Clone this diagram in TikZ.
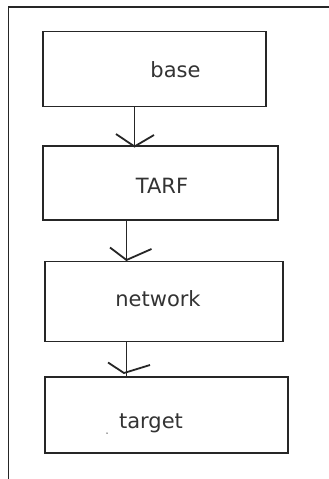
\documentclass[tikz,border=0pt]{standalone}
\usepackage{fontspec}
\setmainfont{DejaVu Sans}
\usetikzlibrary{calc}
\begin{document}
\begin{tikzpicture}[x=1pt,y=-1pt,
  ln/.style={draw=black!85,line width=1.8pt},
  boxnode/.style={ln,rectangle,inner sep=0pt,anchor=north west},
  lbl/.style={font=\fontsize{21}{24}\selectfont,text=black!80,anchor=base,inner sep=0pt}]
\useasboundingbox (0,0) rectangle (329,479);
\fill[white] (0,0) rectangle (329,479);
% frame
\coordinate (fTR) at (329,7);
\coordinate (fTL) at (8.5,7);
\coordinate (fBL) at (8.5,479);
\draw[ln] (fTR) -- (fTL) -- (fBL);
% boxes
\node[boxnode,minimum width=223pt,minimum height=75pt] (b1) at (42,30.5) {};
\node[boxnode,minimum width=235pt,minimum height=74pt] (b2) at (42,145) {};
\node[boxnode,minimum width=238pt,minimum height=80pt] (b3) at (44,260.5) {};
\node[boxnode,minimum width=243pt,minimum height=76pt] (b4) at (44,376) {};
% labels
\node[lbl] (l1) at (175.5,77) {base};
\node[lbl] (l2) at (162,193) {TARF};
\node[lbl] (l3) at (158,306) {network};
\node[lbl] (l4) at (151,428) {target};
\node[fill=black!70,circle,inner sep=0pt,minimum size=1.5pt] (dot) at (107,433) {};
% arrows
\coordinate (t1) at (134.5,146.5);
\coordinate (t2) at (126.5,260);
\coordinate (t3) at (124,373);
\coordinate (s3) at (126.5,378);
\draw[ln] (b1.south -| t1) -- (t1);
\draw[ln] ($(t1)+(-18.5,-12.5)$) -- (t1) -- ($(t1)+(19.5,-11.5)$);
\draw[ln] (b2.south -| t2) -- (t2);
\draw[ln] ($(t2)+(-16.5,-12.5)$) -- (t2) -- ($(t2)+(25,-11)$);
\draw[ln] (b3.south -| s3) -- (s3);
\draw[ln] ($(t3)+(-16,-10.5)$) -- (t3) -- ($(t3)+(26,-8)$);
\end{tikzpicture}
\end{document}
